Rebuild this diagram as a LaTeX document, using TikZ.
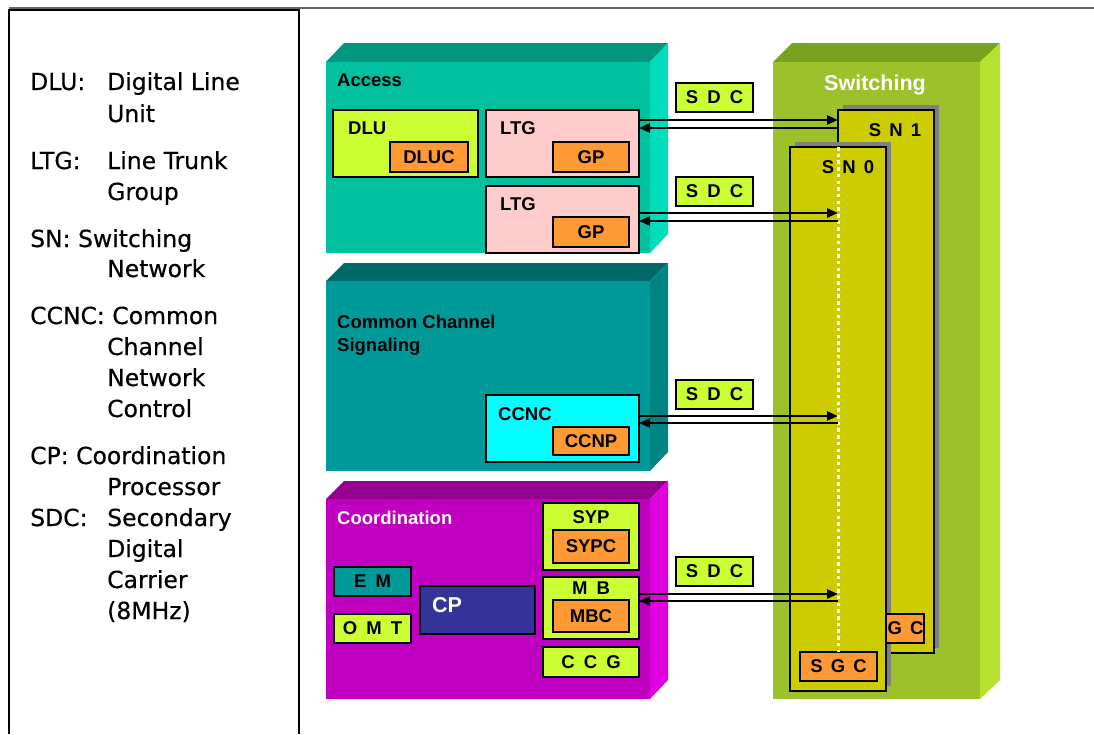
\documentclass[tikz,border=0pt]{standalone}
\usepackage{fontspec}
\setmainfont{Liberation Sans}
\newfontfamily\legendfont[FakeBold=0.4]{DejaVu Sans}
\usetikzlibrary{arrows.meta,calc}

\definecolor{yg}{HTML}{CCFF33}
\definecolor{org}{HTML}{FF9933}
\definecolor{pinkbox}{HTML}{FFCCCC}
\definecolor{cyanbox}{HTML}{00FFFF}
\definecolor{navy}{HTML}{333399}
\definecolor{tealbox}{HTML}{009999}
\definecolor{accfront}{HTML}{00C0A0}
\definecolor{acctop}{HTML}{00977E}
\definecolor{accside}{HTML}{00DDBA}
\definecolor{ccsfront}{HTML}{009999}
\definecolor{ccstop}{HTML}{006868}
\definecolor{ccsside}{HTML}{008484}
\definecolor{cofront}{HTML}{C000C0}
\definecolor{cotop}{HTML}{960090}
\definecolor{coside}{HTML}{E000E0}
\definecolor{swfront}{HTML}{9CC12B}
\definecolor{swtop}{HTML}{78A21F}
\definecolor{swside}{HTML}{B6E12F}
\definecolor{snfill}{HTML}{CCCC00}
\definecolor{shadowc}{HTML}{808080}

\newcommand{\lblsize}{\bfseries\fontsize{18.5}{20}\selectfont}

\begin{document}
\begin{tikzpicture}[x=1pt,y=-1pt,
  box/.style={draw=black, line width=2.8pt, inner sep=0pt, outer sep=0pt, anchor=north west, font=\lblsize},
  lbl/.style={inner sep=0pt, font=\lblsize},
  legend/.style={inner sep=0pt, anchor=base west, font=\legendfont\fontsize{23.5}{31}\selectfont},
  conn/.style={line width=2.6pt, -{Triangle[length=11pt,width=9pt]}},
  shadowbox/.style={fill=shadowc, draw=none},
]
\useasboundingbox (0,0) rectangle (1094,734);
\fill[white] (0,0) rectangle (1094,734);

% frame
\draw[line width=1.2pt, black!60] (9,8) -- (1094,8);
\draw[line width=2.4pt] (9,734) -- (9,10) -- (299,10) -- (299,734);

% legend
\node[legend] (l1) at (30,90) {DLU:};
\node[legend] (l1b) at (107,90) {Digital Line};
\node[legend] (l1c) at (107,122) {Unit};
\node[legend] (l2) at (30,169) {LTG:};
\node[legend] (l2b) at (107,169) {Line Trunk};
\node[legend] (l2c) at (107,200) {Group};
\node[legend] (l3) at (30,247) {SN: Switching};
\node[legend] (l3b) at (107,277) {Network};
\node[legend] (l4) at (30,324) {CCNC: Common};
\node[legend] (l4b) at (107,355) {Channel};
\node[legend] (l4c) at (107,386) {Network};
\node[legend] (l4d) at (107,417) {Control};
\node[legend] (l5) at (30,464) {CP: Coordination};
\node[legend] (l5b) at (107,495) {Processor};
\node[legend] (l6) at (30,526) {SDC:};
\node[legend] (l6b) at (107,526) {Secondary};
\node[legend] (l6c) at (107,557) {Digital};
\node[legend] (l6d) at (107,588) {Carrier};
\node[legend] (l6e) at (107,619) {(8MHz)};

% ---- 3D blocks ----
% Access
\fill[acctop] (326,62) -- (344,43) -- (668,43) -- (650,62) -- cycle;
\fill[accside] (650,62) -- (668,43) -- (668,234) -- (650,253) -- cycle;
\fill[accfront] (326,62) rectangle (650,253);
% Common Channel Signaling
\fill[ccstop] (326,281) -- (344,263) -- (668,263) -- (650,281) -- cycle;
\fill[ccsside] (650,281) -- (668,263) -- (668,452) -- (650,471) -- cycle;
\fill[ccsfront] (326,281) rectangle (650,471);
% Coordination
\fill[cotop] (326,499) -- (344,481) -- (668,481) -- (650,499) -- cycle;
\fill[coside] (650,499) -- (668,481) -- (668,680) -- (650,699) -- cycle;
\fill[cofront] (326,499) rectangle (650,699);
% Switching
\fill[swtop] (773,62) -- (792,43) -- (1000,43) -- (980,62) -- cycle;
\fill[swside] (980,62) -- (1000,43) -- (1000,680) -- (980,699) -- cycle;
\fill[swfront] (773,62) rectangle (980,699);

% block titles
\node[lbl, anchor=west] (tacc) at (337,80) {Access};
\node[lbl, anchor=north west, align=left, font=\bfseries\fontsize{18.5}{23}\selectfont] (tccs) at (337,315) {Common Channel\\Signaling};
\node[lbl, anchor=west, text=white] (tco) at (337,518) {Coordination};
\node[lbl, text=white, font=\bfseries\fontsize{21.5}{23}\selectfont] (tsw) at (875,85) {Switching};

% ---- Access contents ----
\node[box, fill=yg, minimum width=145, minimum height=67] (dlu) at (333,110) {};
\node[lbl, anchor=west] (dlut) at ($(dlu.north west)+(15,18)$) {DLU};
\node[box, fill=org, minimum width=78, minimum height=30] (dluc) at (390,142) {DLUC};
\node[box, fill=pinkbox, minimum width=153, minimum height=67] (ltg1) at (486,110) {};
\node[lbl, anchor=west] (ltg1t) at ($(ltg1.north west)+(14,18)$) {LTG};
\node[box, fill=org, minimum width=76, minimum height=30] (gp1) at (553,142) {GP};
\node[box, fill=pinkbox, minimum width=153, minimum height=67] (ltg2) at (486,186) {};
\node[lbl, anchor=west] (ltg2t) at ($(ltg2.north west)+(14,18)$) {LTG};
\node[box, fill=org, minimum width=76, minimum height=30] (gp2) at (553,217) {GP};

% ---- CCS contents ----
\node[box, fill=cyanbox, minimum width=153, minimum height=67] (ccnc) at (486,395) {};
\node[lbl, anchor=west] (ccnct) at ($(ccnc.north west)+(12,19)$) {CCNC};
\node[box, fill=org, minimum width=76, minimum height=28] (ccnp) at (553,427) {CCNP};

% ---- Coordination contents ----
\node[box, fill=yg, minimum width=96, minimum height=67] (syp) at (543,503) {};
\node[lbl] (sypt) at ($(syp.north)+(0,14)$) {SYP};
\node[box, fill=org, minimum width=76, minimum height=33] (sypc) at (553,530) {SYPC};
\node[box, fill=yg, minimum width=96, minimum height=62] (mb) at (543,577) {};
\node[lbl] (mbt) at ($(mb.north)+(0,11)$) {M\hspace{4pt} B};
\node[box, fill=org, minimum width=76, minimum height=32] (mbc) at (553,600) {MBC};
\node[box, fill=yg, minimum width=96, minimum height=30] (ccg) at (543,647) {C\hspace{4pt} C\hspace{4pt} G};
\node[box, fill=tealbox, minimum width=77, minimum height=29] (em) at (334,567) {E\hspace{4pt} M};
\node[box, fill=yg, minimum width=77, minimum height=29] (omt) at (334,614) {O\hspace{4pt} M\hspace{4pt} T};
\node[box, fill=navy, minimum width=115, minimum height=48] (cp) at (420,586) {};
\node[lbl, anchor=west, text=white, font=\bfseries\fontsize{21.5}{23}\selectfont] (cpt) at (432,605) {CP};

% ---- SDC labels ----
\node[box, fill=yg, minimum width=77, minimum height=29] (sdc1) at (676,83) {S\hspace{4pt} D\hspace{4pt} C};
\node[box, fill=yg, minimum width=77, minimum height=29] (sdc2) at (676,177) {S\hspace{4pt} D\hspace{4pt} C};
\node[box, fill=yg, minimum width=77, minimum height=29] (sdc3) at (676,380) {S\hspace{4pt} D\hspace{4pt} C};
\node[box, fill=yg, minimum width=77, minimum height=29] (sdc4) at (676,557) {S\hspace{4pt} D\hspace{4pt} C};

% ---- Switching network planes ----
\fill[shadowbox] (843,105) rectangle (939,648);
\node[box, fill=snfill, line width=2.6pt, minimum width=96, minimum height=543] (sn1) at (838,110) {};
\node[lbl] (sn1t) at ($(sn1.north)+(9,20)$) {S\hspace{3pt} N\hspace{3pt} 1};
\fill[shadowbox] (795,142) rectangle (891,686);
\node[box, fill=org, line width=2.6pt, minimum width=40, minimum height=29] (gc) at (884,614) {\hspace{3pt}G\hspace{3pt} C};
\node[box, fill=snfill, line width=2.6pt, minimum width=96, minimum height=544] (sn0) at (790,147) {};
\node[lbl] (sn0t) at ($(sn0.north)+(10,20)$) {S\hspace{3pt} N\hspace{3pt} 0};
\node[box, fill=org, line width=2.6pt, minimum width=77, minimum height=29] (sgc) at (800,652) {S\hspace{3pt} G\hspace{3pt} C};
\draw[white, line width=3pt, dash pattern=on 3.5pt off 3.2pt] (sn1.west |- sn0.north) -- (sn1.west |- sgc.north);

% ---- connectors ----
\draw[conn] (ltg1.east |- 0,120) -- (sn1.west |- 0,120);
\draw[conn] (sn1.west |- 0,128) -- (ltg1.east |- 0,128);
\draw[conn] (ltg2.east |- 0,213) -- (sn1.west |- 0,213);
\draw[conn] (sn1.west |- 0,221) -- (ltg2.east |- 0,221);
\draw[conn] (ccnc.east |- 0,416) -- (sn1.west |- 0,416);
\draw[conn] (sn1.west |- 0,423) -- (ccnc.east |- 0,423);
\draw[conn] (mb.east |- 0,594) -- (sn1.west |- 0,594);
\draw[conn] (sn1.west |- 0,601) -- (mb.east |- 0,601);
\end{tikzpicture}
\end{document}
